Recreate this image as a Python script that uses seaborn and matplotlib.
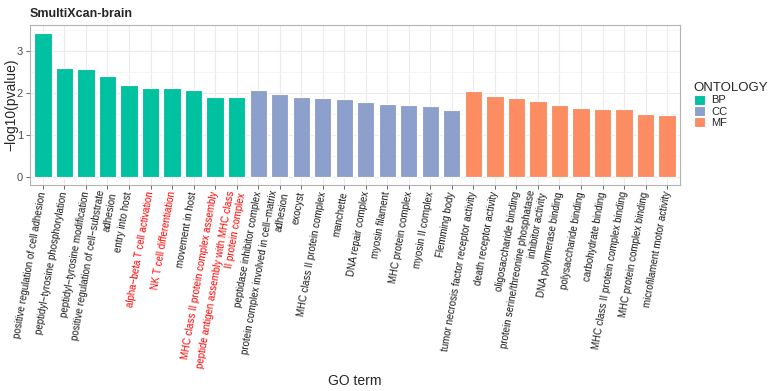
import pandas as pd
import seaborn as sns
import matplotlib.pyplot as plt

sns.set_style("white")
plt.rcParams['font.family'] = ['Liberation Sans', 'DejaVu Sans']

# GO terms in plotting order
terms = [
    "positive regulation of cell adhesion",
    "peptidyl−tyrosine phosphorylation",
    "peptidyl−tyrosine modification",
    "positive regulation of cell−substrate\nadhesion",
    "entry into host",
    "alpha−beta T cell activation",
    "NK T cell differentiation",
    "movement in host",
    "MHC class II protein complex assembly",
    "peptide antigen assembly with MHC class\nII protein complex",
    "peptidase inhibitor complex",
    "protein complex involved in cell−matrix\nadhesion",
    "exocyst",
    "MHC class II protein complex",
    "manchette",
    "DNA repair complex",
    "myosin filament",
    "MHC protein complex",
    "myosin II complex",
    "Flemming body",
    "tumor necrosis factor receptor activity",
    "death receptor activity",
    "oligosaccharide binding",
    "protein serine/threonine phosphatase\ninhibitor activity",
    "DNA polymerase binding",
    "polysaccharide binding",
    "carbohydrate binding",
    "MHC class II protein complex binding",
    "MHC protein complex binding",
    "microfilament motor activity",
]
ontology = ["BP"] * 10 + ["CC"] * 10 + ["MF"] * 10
neglogp = [3.45, 2.60, 2.58, 2.41, 2.21, 2.13, 2.12, 2.09, 1.91, 1.91,
           2.08, 1.98, 1.92, 1.90, 1.86, 1.79, 1.74, 1.72, 1.70, 1.60,
           2.05, 1.95, 1.89, 1.83, 1.72, 1.66, 1.63, 1.63, 1.51, 1.49]
highlight = ["alpha−beta T cell activation",
             "NK T cell differentiation",
             "MHC class II protein complex assembly",
             "peptide antigen assembly with MHC class\nII protein complex"]

df = pd.DataFrame({"term": terms, "ONTOLOGY": ontology, "value": neglogp})
palette = {"BP": "#00C2A0", "CC": "#8DA0CB", "MF": "#FC8D62"}

fig = plt.figure(figsize=(7.72, 3.91), dpi=100)
ax = fig.add_axes([30 / 772, 1 - 184.6 / 391, 650 / 772, 159.3 / 391])

sns.barplot(data=df, x="term", y="value", hue="ONTOLOGY", palette=palette,
            order=terms, dodge=False, width=0.8, edgecolor="white",
            linewidth=0.8, saturation=1, ax=ax, zorder=3)

ymax = max(neglogp)
ax.set_xlim(-0.6, len(terms) - 0.4)
ax.set_ylim(-0.05 * ymax, 1.05 * ymax)
ax.set_yticks([0, 1, 2, 3])
ax.set_yticks([0.5, 1.5, 2.5, 3.5], minor=True)
ax.grid(True, which="major", color="#EBEBEB", linewidth=0.8, zorder=0)
ax.grid(True, which="minor", axis="y", color="#F2F2F2", linewidth=0.5, zorder=0)
ax.set_axisbelow(True)
for s in ax.spines.values():
    s.set_color("#B3B3B3")
    s.set_linewidth(0.8)

ax.tick_params(axis="both", which="major", length=3, width=0.6, color="#4D4D4D",
               bottom=True, left=True)
ax.tick_params(axis="y", which="minor", length=0)
ax.tick_params(axis="y", labelsize=8, labelcolor="#4D4D4D", pad=2)
ax.tick_params(axis="x", pad=2)
ax.set_xticks(range(len(terms)))
ax.set_xticklabels(terms, rotation=80, ha="right", va="center",
                   rotation_mode="anchor", fontsize=7)
for lab in ax.get_xticklabels():
    lab.set_color("red" if lab.get_text() in highlight else "#1A1A1A")

ax.set_xlabel("GO term", fontsize=10)
ax.xaxis.set_label_coords(0.5, (184.6 - 374) / 159.3)
ax.set_ylabel("−log10(pvalue)", fontsize=10)
ax.yaxis.set_label_coords((18 - 30) / 650, 0.5)
fig.text(30 / 772, 1 - 14 / 391, "SmultiXcan-brain", fontsize=9,
         fontweight="bold", va="center", ha="left")

sns.move_legend(ax, "center left", bbox_to_anchor=(688 / 772, 1 - 105 / 391),
                bbox_transform=fig.transFigure, frameon=False,
                title="ONTOLOGY", fontsize=8, title_fontsize=9.5,
                handlelength=1.0, handleheight=1.0, labelspacing=0.05,
                handletextpad=0.6, borderpad=0, alignment="left")

plt.savefig("out.png", dpi=100)
